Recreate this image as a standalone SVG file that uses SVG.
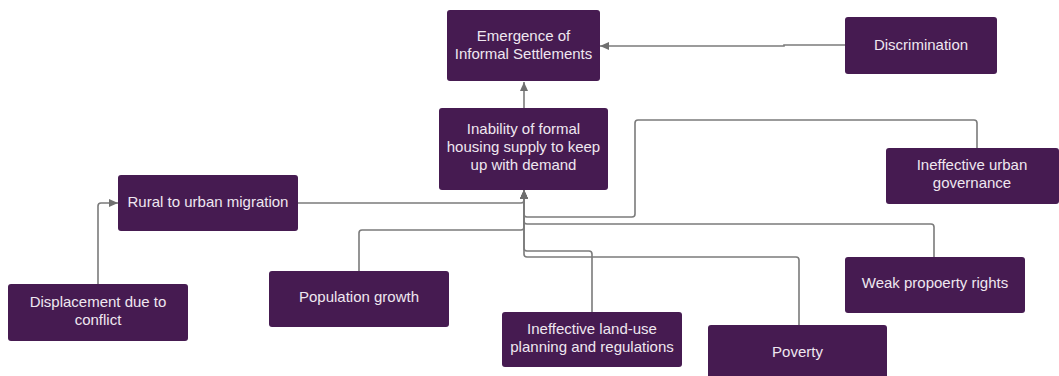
<svg xmlns="http://www.w3.org/2000/svg" width="1059" height="376" viewBox="0 0 1059 376">
  <style>
    .box { fill: #461b51; stroke: none; }
    .lbl { font-family: "Liberation Sans", Arial, sans-serif; font-size: 15px; fill: #efe7f0; text-anchor: middle; }
    .wire { fill: none; stroke: #7b7b7b; stroke-width: 1.6; }
  </style>
  <defs>
    <marker id="arrow" markerUnits="userSpaceOnUse" markerWidth="10" markerHeight="8" refX="9" refY="4" orient="auto">
      <path d="M0,0 L9,4 L0,8 Z" fill="#6f6f6f"/>
    </marker>
  </defs>
  <rect width="1059" height="376" fill="#ffffff"/>

  <!-- connectors -->
  <g id="connectors">
    <path class="wire" d="M524,108 V82" marker-end="url(#arrow)"/>
    <path class="wire" d="M845,45 H784 V46 H600" marker-end="url(#arrow)"/>
    <path class="wire" d="M98,284 V206 q0,-3 3,-3 H118" marker-end="url(#arrow)"/>
    <path class="wire" d="M298,203 H521 q3,0 3,-3 V190" marker-end="url(#arrow)"/>
    <path class="wire" d="M359,271 V233 q0,-3 3,-3 H521 q3,0 3,-3 V190" marker-end="url(#arrow)"/>
    <path class="wire" d="M977,148 V123 q0,-3 -3,-3 H638 q-3,0 -3,3 V214 q0,3 -3,3 H527 q-3,0 -3,-3 V190" marker-end="url(#arrow)"/>
    <path class="wire" d="M934,257 V227 q0,-3 -3,-3 H527 q-3,0 -3,-3 V190" marker-end="url(#arrow)"/>
    <path class="wire" d="M592,312 V254 q0,-3 -3,-3 H527 q-3,0 -3,-3 V190" marker-end="url(#arrow)"/>
    <path class="wire" d="M799,325 V260 q0,-3 -3,-3 H527 q-3,0 -3,-3 V190" marker-end="url(#arrow)"/>
  </g>

  <!-- nodes -->
  <g id="emergence">
    <rect class="box" x="447" y="10" width="153" height="71" rx="3"/>
    <text class="lbl" x="523.5" y="41">Emergence of</text>
    <text class="lbl" x="523.5" y="59">Informal Settlements</text>
  </g>
  <g id="discrimination">
    <rect class="box" x="845" y="17" width="152" height="57" rx="3"/>
    <text class="lbl" x="921" y="50">Discrimination</text>
  </g>
  <g id="inability">
    <rect class="box" x="439" y="108" width="169" height="82" rx="3"/>
    <text class="lbl" x="523.5" y="134">Inability of formal</text>
    <text class="lbl" x="523.5" y="152">housing supply to keep</text>
    <text class="lbl" x="523.5" y="170">up with demand</text>
  </g>
  <g id="rural-migration">
    <rect class="box" x="118" y="175" width="180" height="56" rx="3"/>
    <text class="lbl" x="208" y="207">Rural to urban migration</text>
  </g>
  <g id="urban-governance">
    <rect class="box" x="886" y="148" width="173" height="56" rx="3"/>
    <text class="lbl" x="972" y="170">Ineffective urban</text>
    <text class="lbl" x="972" y="188">governance</text>
  </g>
  <g id="displacement">
    <rect class="box" x="8" y="284" width="180" height="57" rx="3"/>
    <text class="lbl" x="98" y="307">Displacement due to</text>
    <text class="lbl" x="98" y="325">conflict</text>
  </g>
  <g id="population-growth">
    <rect class="box" x="269" y="271" width="180" height="56" rx="3"/>
    <text class="lbl" x="359" y="302">Population growth</text>
  </g>
  <g id="land-use">
    <rect class="box" x="502" y="312" width="180" height="55" rx="3"/>
    <text class="lbl" x="592" y="334">Ineffective land-use</text>
    <text class="lbl" x="592" y="352">planning and regulations</text>
  </g>
  <g id="property-rights">
    <rect class="box" x="845" y="257" width="180" height="56" rx="3"/>
    <text class="lbl" x="935" y="288">Weak propoerty rights</text>
  </g>
  <g id="poverty">
    <rect class="box" x="708" y="325" width="179" height="56" rx="3"/>
    <text class="lbl" x="797.5" y="357">Poverty</text>
  </g>
</svg>
